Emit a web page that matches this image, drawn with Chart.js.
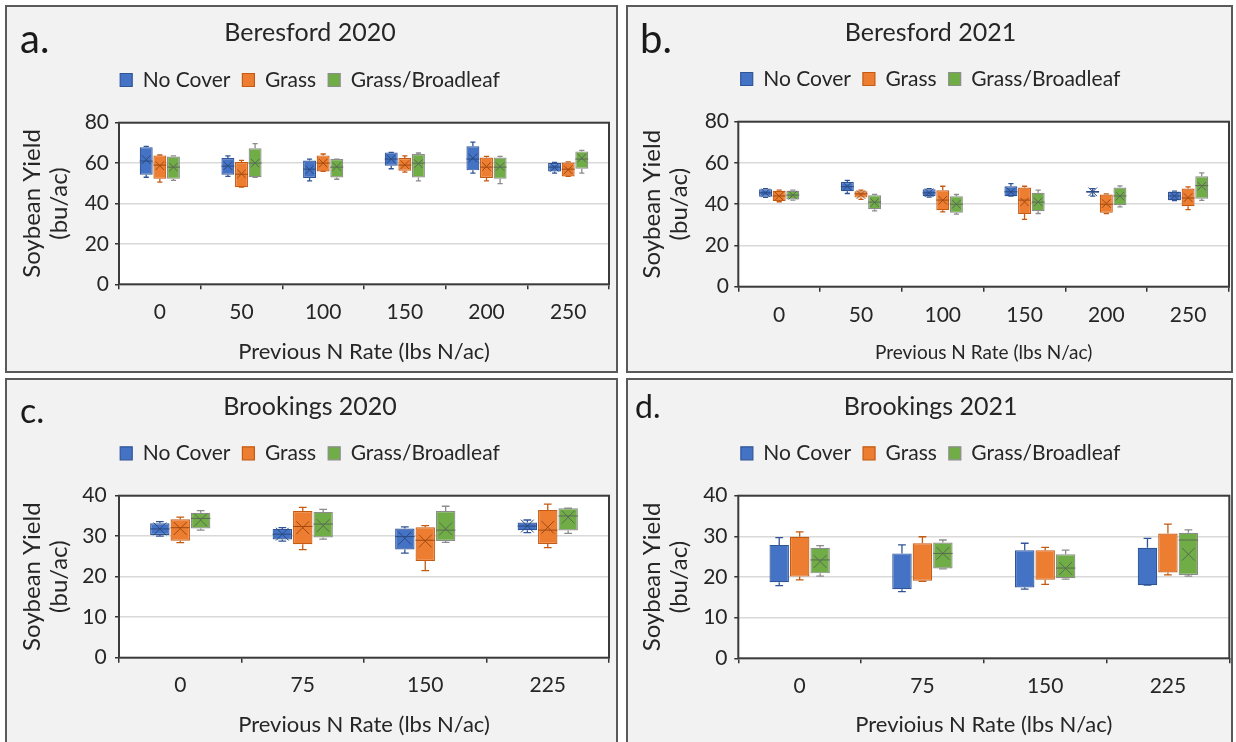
<!DOCTYPE html>
<html>
<head>
<meta charset="utf-8">
<script src="https://cdn.jsdelivr.net/npm/chart.js@4.4.1/dist/chart.umd.min.js"></script>
<style>
  html, body { margin: 0; padding: 0; background: #fff; }
  body { width: 1236px; height: 742px; position: relative; overflow: hidden; }
  .panel { position: absolute; border: 2px solid #5a5a5a; background: #f2f2f2; }
  .panel canvas { display: block; }
</style>
</head>
<body>
<div class="panel" style="left:5px;top:5px;width:609px;height:364px"><canvas id="chartA"></canvas></div>
<div class="panel" style="left:626px;top:5px;width:603px;height:364px"><canvas id="chartB"></canvas></div>
<div class="panel" style="left:5px;top:378px;width:609px;height:366px"><canvas id="chartC"></canvas></div>
<div class="panel" style="left:626px;top:378px;width:603px;height:366px"><canvas id="chartD"></canvas></div>
<script>
// categories and tick labels
const seriesNames = ['No Cover', 'Grass', 'Grass/Broadleaf'];
const nRatesBeresford = ['0', '50', '100', '150', '200', '250'];
const nRatesBrookings = ['0', '75', '150', '225'];
const yieldTicksBeresford = [0, 20, 40, 60, 80];
const yieldTicksBrookings = [0, 10, 20, 30, 40];

// box stats per N rate: [min, q1, median, q3, max, mean]
const beresford2020NoCover = [[53, 54.2, 61, 67.9, 68.3, 61.7], [53.4, 54.2, 58.5, 62.5, 63.6, 58.7], [51.2, 52.6, 57, 61.3, 62, 56.7], [57.2, 58.7, 62, 65.3, 65.3, 62], [55, 56.4, 62, 68.3, 70.4, 62.5], [55, 55.9, 58, 60, 60.3, 57.9]];
const beresford2020Grass = [[50.6, 52.2, 59, 63.8, 64, 58.7], [48.1, 48.1, 54.5, 60.5, 61.3, 54.7], [55.9, 55.9, 60, 63.8, 64.5, 60], [55.5, 56.2, 59, 62.5, 63.6, 59.2], [51.2, 52.6, 58, 62.8, 63.3, 58.3], [53.4, 53.4, 57, 60.3, 60.6, 56.7]];
const beresford2020Mixed = [[51.4, 52.2, 58, 63.3, 63.6, 58], [53, 53, 60, 67.3, 69.6, 60], [52, 52.9, 58, 62, 62, 58.3], [51.2, 52.9, 60, 64.5, 65, 59.7], [49.8, 52.2, 58, 62.8, 63.3, 58.3], [55, 57.2, 62, 65.8, 66.3, 62.5]];

const beresford2021NoCover = [[43.3, 43.6, 45.5, 47.3, 47.6, 45.5], [45.2, 46.3, 48.5, 50.8, 51.6, 48.7], [43.5, 43.9, 45.5, 47.3, 47.6, 45.6], [43.9, 43.9, 46, 48.7, 50, 46], [43.9, 45.6, 46, 46.4, 47.6, 46], [41.7, 41.9, 44, 46, 46.3, 44]];
const beresford2021Grass = [[41.2, 41.5, 44, 46.5, 46.8, 43.9], [42.3, 43.2, 45, 46.3, 46.8, 44.7], [36.3, 37.1, 42, 46.8, 48.7, 41.9], [32.6, 35.2, 42, 48.1, 48.7, 41.1], [35.5, 35.8, 40, 44.7, 45, 40.3], [37.4, 39, 43, 47.6, 48.4, 43.2]];
const beresford2021Mixed = [[42, 42.3, 44.4, 46.5, 46.8, 44.4], [36.8, 37.6, 41, 44.4, 44.8, 40.8], [35.2, 35.8, 40, 43.9, 44.7, 40], [35.5, 36.6, 41, 45.5, 46.8, 41.1], [38.7, 39.5, 44, 48.1, 48.9, 43.9], [41.9, 42.7, 49, 53.5, 55.2, 48.7]];

const brookings2020NoCover = [[30, 30.3, 31.8, 33.2, 33.6, 31.8], [28.8, 29.2, 30.5, 31.8, 32.1, 30.5], [25.8, 26.7, 29.9, 31.9, 32.3, 29.5], [30.9, 31.5, 32.5, 33.4, 34, 32.5]];
const brookings2020Grass = [[28.4, 28.9, 32.1, 34.2, 34.7, 31.9], [26.7, 28, 32.4, 36.2, 37.1, 32.1], [21.5, 23.9, 29, 32.2, 32.6, 28.8], [27.2, 28.1, 31.5, 36.5, 37.9, 32.2]];
const brookings2020Mixed = [[31.5, 31.9, 34.4, 35.8, 36.3, 34], [29.3, 29.7, 33, 36, 36.6, 32.6], [28.5, 28.8, 31.5, 36.2, 37.4, 31.8], [30.7, 31.4, 35, 36.9, 36.9, 34.7]];

const brookings2021NoCover = [[17.9, 18.7, null, 27.9, 29.7, null], [16.4, 17, null, 25.8, 27.9, null], [17, 17.4, null, 26.6, 28.3, null], [18, 18, null, 27.2, 29.5, null]];
const brookings2021Grass = [[19.3, 20.1, null, 29.9, 31.1, null], [18.9, 19.1, null, 28.3, 29.9, null], [18.2, 19.3, null, 26.6, 27.3, null], [20.5, 21.1, null, 30.7, 33, null]];
const brookings2021Mixed = [[20.2, 20.9, 24.2, 27.2, 27.7, 23.8], [22, 22.1, 25.8, 28.5, 29.1, 25.8], [19.5, 19.7, 22.2, 25.6, 26.6, 22.1], [20.2, 20.5, 29.1, 30.9, 31.6, 25.6]];

const fills = ['#4472c4', '#ed7d31', '#70ad47'];
const edges = ['#2f5597', '#c55a11', '#8c8c8c'];
const marks = ['#2a4a80', '#a04a10', '#5a6a55'];

Chart.defaults.font.family = "Lato, 'Liberation Sans', sans-serif";
Chart.defaults.color = '#333';

// whiskers, median line and mean cross on top of the floating bars
const boxWhiskers = {
  id: 'boxWhiskers',
  beforeDraw(chart) {
    const {ctx, chartArea: a} = chart;
    ctx.save();
    ctx.fillStyle = '#fff';
    ctx.fillRect(a.left, a.top, a.width, a.height);
    ctx.restore();
  },
  afterDatasetsDraw(chart) {
    const {ctx, scales: {y}} = chart;
    chart.data.datasets.forEach((ds, i) => {
      chart.getDatasetMeta(i).data.forEach((bar, j) => {
        const [lo, q1, med, q3, hi, mean] = ds.stats[j];
        const x = bar.x, half = bar.width / 2, cap = bar.width * 0.2;
        ctx.save();
        ctx.strokeStyle = ds.borderColor;
        ctx.lineWidth = 1.3;
        ctx.beginPath();
        [[q3, hi], [q1, lo]].forEach(([from, to]) => {
          const py = y.getPixelForValue(to);
          ctx.moveTo(x, y.getPixelForValue(from));
          ctx.lineTo(x, py);
          ctx.moveTo(x - cap, py);
          ctx.lineTo(x + cap, py);
        });
        ctx.stroke();
        ctx.strokeStyle = ds.markColor;
        ctx.lineWidth = 1;
        ctx.beginPath();
        if (med != null) {
          const py = y.getPixelForValue(med);
          ctx.moveTo(x - half, py);
          ctx.lineTo(x + half, py);
        }
        if (mean != null) {
          const py = y.getPixelForValue(mean), s = bar.width * 0.33;
          ctx.moveTo(x - s, py - s); ctx.lineTo(x + s, py + s);
          ctx.moveTo(x + s, py - s); ctx.lineTo(x - s, py + s);
        }
        ctx.stroke();
        ctx.restore();
      });
    });
  },
  afterDraw(chart, args, opts) {
    const {ctx, chartArea: a} = chart;
    ctx.save();
    ctx.strokeStyle = '#3b3b3b';
    ctx.lineWidth = 2;
    ctx.strokeRect(a.left, a.top, a.width, a.height);
    ctx.fillStyle = '#1a1a1a';
    ctx.font = opts.letterSize + "px Lato, 'Liberation Sans', sans-serif";
    ctx.textBaseline = 'alphabetic';
    ctx.textAlign = 'left';
    ctx.fillText(opts.letter, opts.letterX, opts.letterY);
    ctx.restore();
  }
};

function drawPanel(canvasId, p) {
  const titleSize = 25, legendSize = 21, tickSize = 21, yTitleSize = 24;
  const titleLh = titleSize * 1.2;
  const legendPad = 12;
  const legendTop = p.legendY - legendPad - legendSize / 2;
  const spacer = p.plotTop - (legendTop + legendSize + legendPad + 10);
  const xTitleLh = p.xTitleSize * 1.2;
  const yTitleLh = yTitleSize * 1.15;
  const padLeft = 4;
  const ticks = p.yTicks;

  new Chart(document.getElementById(canvasId), {
    type: 'bar',
    data: {
      labels: p.categories,
      datasets: p.series.map((stats, k) => ({
        label: seriesNames[k],
        data: stats.map(s => [s[1], s[3]]),
        stats: stats,
        backgroundColor: fills[k],
        borderColor: edges[k],
        markColor: marks[k],
        borderWidth: 1.2,
        borderSkipped: false,
        categoryPercentage: 0.5,
        barPercentage: 0.95
      }))
    },
    options: {
      responsive: true,
      maintainAspectRatio: false,
      animation: false,
      layout: { padding: { left: padLeft, right: p.width - p.plotRight, top: 0, bottom: 0 } },
      plugins: {
        title: {
          display: true, text: p.title, color: '#262626',
          font: { size: titleSize, weight: 'normal', lineHeight: 1.2 },
          padding: { top: p.titleY - titleLh / 2, bottom: legendTop - p.titleY - titleLh / 2 }
        },
        legend: {
          display: true,
          labels: { boxWidth: 12, boxHeight: 13, padding: legendPad, color: '#262626', font: { size: legendSize } }
        },
        // empty block that keeps a gap between the legend and the plot
        subtitle: { display: true, text: '', weight: 500, padding: 0, font: { size: spacer, lineHeight: 1 } },
        tooltip: { enabled: false },
        boxWhiskers: { letter: p.letter, letterSize: p.letterSize, letterX: p.letterX, letterY: p.letterY }
      },
      scales: {
        x: {
          grid: { offset: true, drawOnChartArea: false, drawTicks: true, tickLength: 5, tickColor: '#333', lineWidth: 1.5 },
          border: { display: false },
          ticks: { color: '#262626', font: { size: tickSize }, padding: p.tickY - p.plotBottom - 5 - tickSize * 0.6 },
          title: {
            display: true, text: p.xTitle, color: '#262626',
            font: { size: p.xTitleSize, lineHeight: 1.2 },
            padding: { top: 0, bottom: p.height - p.xTitleY - xTitleLh / 2 }
          },
          afterFit(s) { s.height = p.height - p.plotBottom; }
        },
        y: {
          min: ticks[0],
          max: ticks[ticks.length - 1],
          grid: { color: '#d9d9d9', lineWidth: 1.5, tickLength: 4, tickColor: '#333' },
          border: { display: false },
          ticks: { stepSize: ticks[1] - ticks[0], color: '#262626', font: { size: tickSize }, padding: p.yGap - 4 },
          title: {
            display: true, text: ['Soybean Yield', '(bu/ac)'], color: '#262626',
            font: { size: yTitleSize, lineHeight: 1.15 },
            padding: { top: p.yTitleX - padLeft - yTitleLh / 2, bottom: 0 }
          },
          afterFit(s) { s.width = p.plotLeft - padLeft; }
        }
      }
    },
    plugins: [boxWhiskers]
  });
}

drawPanel('chartA', {
  title: 'Beresford 2020', letter: 'a.', letterSize: 40, letterX: 13, letterY: 46,
  categories: nRatesBeresford, yTicks: yieldTicksBeresford,
  series: [beresford2020NoCover, beresford2020Grass, beresford2020Mixed],
  xTitle: 'Previous N Rate (lbs N/ac)', xTitleSize: 22,
  width: 609, height: 364, plotLeft: 112, plotRight: 602, plotTop: 115.7, plotBottom: 277.3,
  titleY: 26, legendY: 73, tickY: 305, xTitleY: 345, yTitleX: 25, yGap: 10
});

drawPanel('chartB', {
  title: 'Beresford 2021', letter: 'b.', letterSize: 40, letterX: 12, letterY: 46,
  categories: nRatesBeresford, yTicks: yieldTicksBeresford,
  series: [beresford2021NoCover, beresford2021Grass, beresford2021Mixed],
  xTitle: 'Previous N Rate (lbs N/ac)', xTitleSize: 19,
  width: 603, height: 364, plotLeft: 110.3, plotRight: 601, plotTop: 114.7, plotBottom: 279.7,
  titleY: 26, legendY: 72, tickY: 308, xTitleY: 345.7, yTitleX: 24, yGap: 9.3
});

drawPanel('chartC', {
  title: 'Brookings 2020', letter: 'c.', letterSize: 34, letterX: 13, letterY: 43.3,
  categories: nRatesBrookings, yTicks: yieldTicksBrookings,
  series: [brookings2020NoCover, brookings2020Grass, brookings2020Mixed],
  xTitle: 'Previous N Rate (lbs N/ac)', xTitleSize: 22,
  width: 609, height: 366, plotLeft: 112, plotRight: 602, plotTop: 115.7, plotBottom: 277.7,
  titleY: 26.7, legendY: 73.3, tickY: 305, xTitleY: 345, yTitleX: 25, yGap: 12.3
});

drawPanel('chartD', {
  title: 'Brookings 2021', letter: 'd.', letterSize: 32, letterX: 7, letterY: 38.3,
  categories: nRatesBrookings, yTicks: yieldTicksBrookings,
  series: [brookings2021NoCover, brookings2021Grass, brookings2021Mixed],
  xTitle: 'Previoius N Rate (lbs N/ac)', xTitleSize: 22,
  width: 603, height: 366, plotLeft: 110.3, plotRight: 601.3, plotTop: 115.7, plotBottom: 278.3,
  titleY: 26.7, legendY: 73.3, tickY: 306.7, xTitleY: 345, yTitleX: 24, yGap: 10.8
});
</script>
</body>
</html>
